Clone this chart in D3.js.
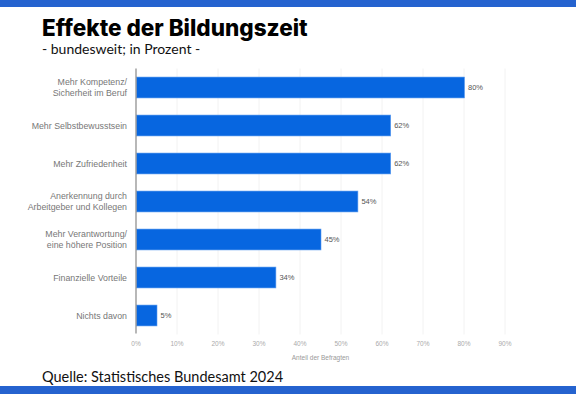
<!DOCTYPE html>
<html>
<head>
<meta charset="utf-8">
<script src="https://cdn.jsdelivr.net/npm/d3@7"></script>
<style>
  body { margin: 0; background: #fff; }
  svg { display: block; }
</style>
</head>
<body>
<svg width="576" height="394"></svg>
<script>
var categories = [
	["Mehr Kompetenz/", "Sicherheit im Beruf"],
	["Mehr Selbstbewusstsein"],
	["Mehr Zufriedenheit"],
	["Anerkennung durch", "Arbeitgeber und Kollegen"],
	["Mehr Verantwortung/", "eine höhere Position"],
	["Finanzielle Vorteile"],
	["Nichts davon"]
];
var values = [80, 62, 62, 54, 45, 34, 5];
var ticks = [0, 10, 20, 30, 40, 50, 60, 70, 80, 90];

(function(){
	var svg = d3.select("svg"),
		W = 576, H = 394,
		left = 136, right = 505, top = 68.5, bottom = 334.5;

	// bands top / bottom
	svg.append("rect").attr("x", 0).attr("y", 0).attr("width", W).attr("height", 7).attr("fill", "#2563cf");
	svg.append("rect").attr("x", 0).attr("y", 386).attr("width", W).attr("height", 8).attr("fill", "#2563cf");

	svg.append("text")
		.text("Effekte der Bildungszeit")
		.attr("x", 42).attr("y", 36)
		.style("font-family", "Inter")
		.style("font-weight", 800)
		.style("font-size", "22.5px")
		.attr("fill", "#000");

	svg.append("text")
		.text("- bundesweit; in Prozent -")
		.attr("x", 42).attr("y", 54)
		.style("font-family", "Lato")
		.style("font-size", "14px")
		.attr("fill", "#111");

	svg.append("text")
		.text("Quelle: Statistisches Bundesamt 2024")
		.attr("x", 42).attr("y", 382)
		.style("font-family", "Lato")
		.style("font-size", "14.5px")
		.attr("fill", "#111");

	var idx = d3.range(values.length);
	var x = d3.scaleLinear().domain([0, 90]).range([left, right]);
	var y = d3.scaleBand().domain(idx).range([top, bottom]).paddingInner(0.45).paddingOuter(0.225);

	var g = svg.append("g").style("font-family", "Liberation Sans, Arial, sans-serif");

	// gridlines
	g.selectAll(".grid")
		.data(ticks.slice(1))
		.enter().append("line")
			.attr("x1", function(d){return x(d);})
			.attr("x2", function(d){return x(d);})
			.attr("y1", top).attr("y2", bottom)
			.attr("stroke", "#f2f2f2")
			.attr("stroke-width", 1);

	g.selectAll(".bar")
		.data(idx)
		.enter().append("rect")
			.attr("class", "bar")
			.attr("x", x(0) + 0.5)
			.attr("y", function(i){return y(i);})
			.attr("width", function(i){return x(values[i]) - x(0);})
			.attr("height", y.bandwidth())
			.attr("fill", "#0766e0")
			.attr("stroke", "#5d9cf0")
			.attr("stroke-width", 0.6);

	g.selectAll(".val")
		.data(idx)
		.enter().append("text")
			.text(function(i){return values[i] + "%";})
			.attr("x", function(i){return x(values[i]) + 4;})
			.attr("y", function(i){return y(i) + y.bandwidth()/2;})
			.attr("dy", "0.35em")
			.style("font-size", "7.5px")
			.attr("fill", "#555");

	// category labels
	var cat = g.selectAll(".cat")
		.data(idx)
		.enter().append("text")
			.attr("text-anchor", "end")
			.style("font-size", "8.8px")
			.attr("fill", "#777");
	cat.each(function(i){
		var lines = categories[i], t = d3.select(this),
			cy = y(i) + y.bandwidth()/2;
		lines.forEach(function(s, k){
			t.append("tspan")
				.text(s)
				.attr("x", left - 9)
				.attr("y", cy + (k - (lines.length - 1)/2) * 11)
				.attr("dy", "0.35em");
		});
	});

	// axis line
	g.append("line")
		.attr("x1", left).attr("x2", left)
		.attr("y1", top).attr("y2", bottom - 1)
		.attr("stroke", "#888").attr("stroke-width", 1.2);

	g.selectAll(".tick")
		.data(ticks)
		.enter().append("text")
			.text(function(d){return d + "%";})
			.attr("x", function(d){return x(d);})
			.attr("y", 346)
			.attr("text-anchor", "middle")
			.style("font-size", "6.5px")
			.attr("fill", "#aaa");

	g.append("text")
		.text("Anteil der Befragten")
		.attr("x", (left + right)/2)
		.attr("y", 360)
		.attr("text-anchor", "middle")
		.style("font-size", "6.5px")
		.attr("fill", "#999");
})();
</script>
</body>
</html>
